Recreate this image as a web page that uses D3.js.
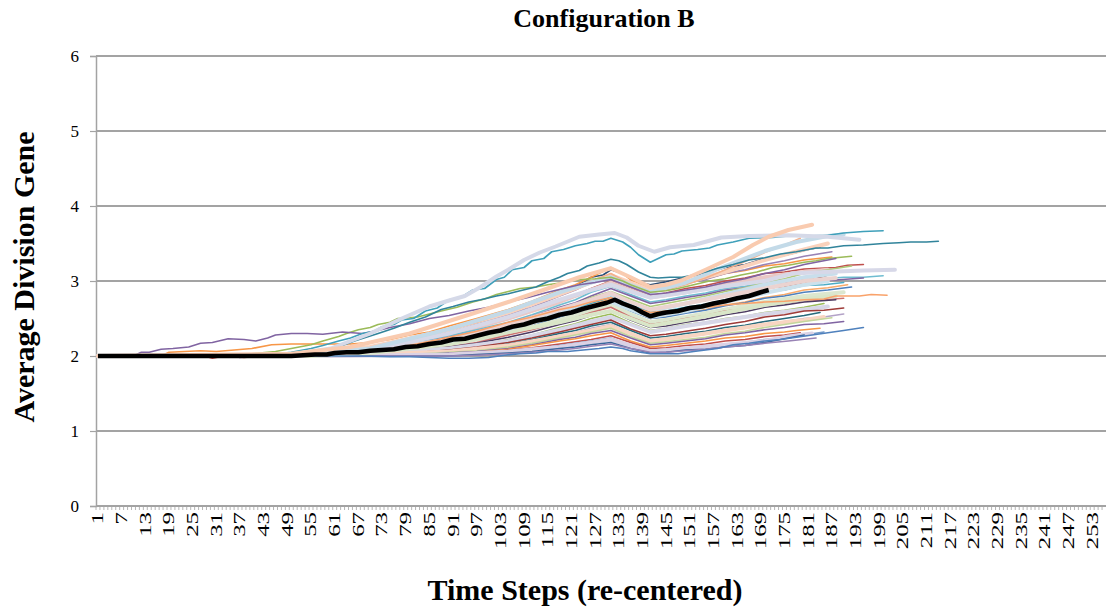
<!DOCTYPE html>
<html>
<head>
<meta charset="utf-8">
<script src="https://cdn.jsdelivr.net/npm/d3@7"></script>
<style>
  body { margin: 0; background: #fff; }
  svg { display: block; }
  text { font-family: "Liberation Serif", "Times New Roman", serif; fill: #000; }
</style>
</head>
<body>
<svg id="chart" width="1112" height="607"></svg>
<script>
// Time steps on the category axis and the labelled ticks
const categories = d3.range(1, 257);
const xTickLabels = categories.filter((d, i) => i % 6 === 0);
const yTicks = [0, 1, 2, 3, 4, 5, 6];

// Mean over all runs: [time step, average division gene]
const averageRun = [[1,2],[50,2],[53,2.01],[56,2.02],[59,2.02],[61,2.04],[64,2.05],[67,2.05],[70,2.07],[73,2.08],[76,2.09],[79,2.12],[82,2.13],[85,2.16],[88,2.18],[91,2.22],[94,2.23],[97,2.27],[100,2.31],[103,2.34],[106,2.39],[109,2.42],[112,2.47],[115,2.5],[118,2.55],[121,2.58],[124,2.63],[127,2.67],[130,2.71],[132,2.75],[134,2.7],[137,2.64],[139,2.58],[141,2.53],[143,2.56],[145,2.58],[148,2.6],[151,2.64],[154,2.66],[157,2.7],[160,2.73],[163,2.77],[166,2.8],[169,2.85],[171,2.88]];

// Individual runs: [time step, average division gene]
const runs = [
  [[1,2],[50,2],[55,2.03],[60,2.05],[65,2.08],[70,2.12],[75,2.16],[80,2.22],[85,2.27],[90,2.35],[94,2.38],[98,2.45],[102,2.52],[105,2.58],[109,2.63],[112,2.72],[115,2.76],[118,2.85],[122,2.93],[126,3.05],[129,3.08],[131,3.15],[134,3.1],[136,3.05],[139,2.97],[141,2.95],[145,2.99],[150,3.05],[155,3.1],[160,3.18],[165,3.22],[170,3.3],[174,3.33],[178,3.38],[181,3.42],[184,3.45]],
  [[1,2],[17,2],[19,2.05],[27,2.07],[31,2.06],[40,2.1],[45,2.15],[50,2.16],[60,2.16],[65,2.16],[70,2.18],[75,2.22],[80,2.28],[85,2.32],[90,2.4],[97,2.5],[105,2.62],[111,2.73],[118,2.88],[122,2.95],[126,3.05],[131,3.18],[134,3.1],[136,3.02],[141,2.9],[145,2.93],[150,2.98],[155,3.03],[160,3.1],[165,3.14],[170,3.2],[175,3.23],[180,3.28],[187,3.32]],
  [[1,2],[50,2],[60,2.04],[70,2.1],[80,2.2],[90,2.33],[97,2.42],[105,2.55],[111,2.65],[118,2.8],[122,2.88],[126,2.98],[131,3.08],[136,2.98],[141,2.88],[145,2.91],[150,2.97],[155,3.02],[160,3.1],[165,3.15],[170,3.22],[175,3.27],[180,3.33],[187,3.39]],
  [[1,2],[55,2],[62,2.03],[70,2.08],[80,2.17],[90,2.3],[97,2.38],[105,2.5],[111,2.6],[118,2.75],[122,2.81],[126,2.9],[131,3.0],[136,2.9],[141,2.8],[145,2.84],[150,2.9],[155,2.94],[160,3.0],[165,3.04],[170,3.1],[175,3.12],[180,3.16],[188,3.18],[191,3.21],[195,3.22]],
  [[1,2],[50,2],[70,2.1],[90,2.28],[105,2.5],[118,2.72],[126,2.88],[131,2.98],[136,2.88],[141,2.78],[150,2.85],[160,2.95],[170,3.05],[180,3.12],[186,3.15]],
  [[1,2],[50,2],[60,2.03],[70,2.08],[80,2.16],[90,2.27],[97,2.35],[105,2.45],[111,2.55],[118,2.68],[122,2.75],[126,2.85],[131,2.93],[136,2.82],[141,2.72],[145,2.75],[150,2.8],[155,2.84],[160,2.9],[165,2.93],[170,2.98],[175,3.0],[180,3.02],[185,3.03],[190,3.05],[195,3.05],[200,3.07]],
  [[1,2],[55,2],[62,2.02],[70,2.06],[80,2.15],[90,2.25],[97,2.33],[105,2.44],[111,2.53],[118,2.65],[122,2.71],[126,2.8],[131,2.9],[136,2.8],[141,2.7],[145,2.73],[150,2.78],[155,2.82],[160,2.88],[165,2.91],[170,2.96],[175,2.98],[180,3.0],[187,3.01],[195,3.04]],
  [[1,2],[55,2],[62,2.03],[70,2.07],[80,2.14],[90,2.24],[97,2.32],[105,2.42],[111,2.5],[118,2.62],[122,2.69],[126,2.78],[131,2.86],[136,2.76],[141,2.66],[145,2.7],[150,2.75],[155,2.8],[160,2.86],[165,2.91],[170,2.98],[175,3.03],[180,3.1],[186,3.15],[192,3.2]],
  [[1,2],[60,2],[65,2.02],[70,2.05],[80,2.12],[90,2.2],[97,2.28],[105,2.4],[111,2.48],[118,2.6],[122,2.66],[126,2.75],[131,2.84],[136,2.72],[141,2.62],[145,2.65],[150,2.7],[155,2.74],[160,2.8],[165,2.84],[170,2.9],[175,2.93],[180,2.98],[183,3.03],[186,3.08]],
  [[1,2],[50,2],[70,2.08],[90,2.22],[105,2.4],[118,2.58],[126,2.72],[131,2.8],[136,2.7],[141,2.6],[150,2.7],[160,2.82],[170,2.95],[180,3.05],[188,3.1]],
  [[1,2],[55,2],[62,2.02],[70,2.05],[80,2.11],[90,2.2],[97,2.28],[105,2.38],[111,2.45],[118,2.56],[122,2.62],[126,2.7],[131,2.78],[136,2.68],[141,2.58],[145,2.6],[150,2.65],[155,2.69],[160,2.75],[165,2.79],[170,2.85],[175,2.88],[180,2.94],[185,2.95],[190,2.98]],
  [[1,2],[55,2],[62,2.03],[70,2.06],[80,2.1],[90,2.18],[97,2.25],[105,2.35],[111,2.43],[118,2.54],[122,2.6],[126,2.68],[131,2.76],[136,2.62],[141,2.5],[145,2.53],[150,2.58],[155,2.62],[160,2.68],[165,2.72],[170,2.78],[175,2.82],[180,2.88],[186,2.91],[191,2.95]],
  [[1,2],[60,2],[65,2.02],[70,2.04],[80,2.08],[90,2.15],[97,2.22],[105,2.32],[111,2.4],[118,2.52],[122,2.58],[126,2.65],[131,2.72],[136,2.6],[141,2.5],[145,2.52],[150,2.57],[155,2.61],[160,2.67],[165,2.71],[170,2.77],[175,2.8],[180,2.85],[186,2.88],[192,2.92]],
  [[1,2],[50,2],[70,2.05],[90,2.15],[105,2.3],[118,2.48],[126,2.6],[131,2.68],[136,2.56],[141,2.45],[150,2.52],[160,2.62],[170,2.72],[180,2.8],[190,2.85]],
  [[1,2],[60,2],[65,2.01],[70,2.04],[80,2.07],[90,2.12],[97,2.18],[105,2.28],[111,2.35],[118,2.45],[122,2.51],[126,2.58],[131,2.65],[136,2.52],[141,2.42],[145,2.45],[150,2.5],[155,2.54],[160,2.6],[165,2.63],[170,2.68],[175,2.7],[180,2.74],[185,2.75],[190,2.77]],
  [[1,2],[60,2],[65,2.01],[70,2.03],[80,2.07],[90,2.12],[97,2.17],[105,2.25],[111,2.32],[118,2.42],[122,2.47],[126,2.54],[131,2.6],[136,2.48],[141,2.38],[145,2.4],[150,2.45],[155,2.49],[160,2.55],[165,2.59],[170,2.65],[175,2.68],[180,2.72],[188,2.75]],
  [[1,2],[60,2],[65,2.01],[70,2.03],[80,2.05],[90,2.1],[97,2.14],[105,2.22],[111,2.28],[118,2.38],[122,2.43],[126,2.5],[131,2.56],[136,2.44],[141,2.34],[145,2.37],[150,2.42],[155,2.45],[160,2.5],[165,2.53],[170,2.58],[175,2.61],[180,2.65],[185,2.7]],
  [[1,2],[55,2],[70,2.04],[90,2.1],[105,2.2],[118,2.35],[126,2.46],[131,2.52],[136,2.42],[141,2.32],[150,2.4],[160,2.48],[170,2.56],[180,2.62],[186,2.66]],
  [[1,2],[60,2],[70,2.02],[80,2.04],[90,2.08],[97,2.12],[105,2.18],[111,2.24],[118,2.32],[122,2.37],[126,2.42],[131,2.48],[136,2.36],[141,2.27],[145,2.29],[150,2.33],[155,2.37],[160,2.42],[165,2.46],[170,2.52],[175,2.55],[180,2.6],[185,2.61],[190,2.64]],
  [[1,2],[60,2],[70,2.02],[80,2.03],[90,2.07],[97,2.1],[105,2.16],[111,2.22],[118,2.3],[122,2.34],[126,2.4],[131,2.45],[136,2.34],[141,2.24],[145,2.26],[150,2.3],[155,2.33],[160,2.38],[165,2.41],[170,2.46],[175,2.5],[180,2.54],[184,2.58]],
  [[1,2],[60,2],[70,2.02],[80,2.03],[90,2.06],[97,2.1],[105,2.15],[111,2.2],[118,2.27],[122,2.31],[126,2.37],[131,2.42],[136,2.3],[141,2.2],[145,2.22],[150,2.26],[155,2.29],[160,2.34],[165,2.37],[170,2.42],[175,2.46],[180,2.5],[185,2.52],[190,2.56]],
  [[1,2],[55,2],[70,2.02],[90,2.06],[105,2.14],[118,2.26],[126,2.34],[131,2.4],[136,2.3],[141,2.2],[150,2.26],[160,2.34],[170,2.42],[180,2.48],[185,2.52]],
  [[1,2],[60,2],[70,2.01],[80,2.02],[90,2.05],[97,2.07],[105,2.12],[111,2.17],[118,2.24],[122,2.28],[126,2.32],[131,2.37],[136,2.26],[141,2.17],[145,2.19],[150,2.22],[155,2.25],[160,2.3],[165,2.33],[170,2.38],[175,2.42],[180,2.46],[187,2.51]],
  [[1,2],[35,2],[37,1.98],[40,2],[60,2],[70,2.01],[80,2.01],[90,2.04],[97,2.06],[105,2.1],[111,2.15],[118,2.22],[122,2.25],[126,2.3],[131,2.34],[136,2.24],[141,2.15],[145,2.17],[150,2.2],[155,2.23],[160,2.28],[165,2.31],[170,2.35],[175,2.38],[180,2.42],[185,2.43],[190,2.46]],
  [[1,2],[60,2],[70,2.01],[80,2.01],[90,2.03],[97,2.05],[105,2.09],[111,2.14],[118,2.2],[122,2.23],[126,2.27],[131,2.31],[136,2.2],[141,2.12],[145,2.14],[150,2.17],[155,2.2],[160,2.24],[165,2.26],[170,2.3],[175,2.32],[178,2.34],[184,2.37]],
  [[1,2],[28,2],[30,1.97],[33,2],[38,1.98],[42,2],[65,2],[70,2],[80,2.01],[90,2.02],[97,2.04],[105,2.08],[111,2.11],[118,2.16],[122,2.19],[126,2.22],[131,2.27],[136,2.18],[141,2.1],[145,2.11],[150,2.14],[155,2.16],[160,2.2],[165,2.22],[170,2.26],[175,2.28],[179,2.31]],
  [[1,2],[65,2],[80,2.01],[90,2.02],[97,2.03],[105,2.06],[111,2.09],[118,2.14],[122,2.17],[126,2.2],[131,2.24],[136,2.14],[141,2.07],[145,2.08],[150,2.1],[155,2.12],[160,2.16],[165,2.18],[170,2.22],[175,2.24],[180,2.28],[185,2.32]],
  [[1,2],[60,2],[90,2.02],[105,2.06],[118,2.12],[126,2.18],[131,2.22],[136,2.14],[141,2.06],[150,2.1],[160,2.15],[170,2.2],[176,2.26],[182,2.3]],
  [[1,2],[65,2],[80,2],[90,2],[97,2.02],[105,2.04],[111,2.06],[118,2.1],[122,2.12],[126,2.15],[131,2.18],[136,2.1],[141,2.04],[145,2.05],[150,2.08],[155,2.09],[160,2.12],[165,2.14],[170,2.18],[176,2.24],[180,2.28]],
  [[1,2],[70,2],[90,2],[97,2.01],[105,2.03],[111,2.05],[118,2.08],[122,2.1],[126,2.13],[131,2.16],[136,2.1],[141,2.05],[145,2.05],[150,2.07],[155,2.09],[160,2.12],[165,2.14],[170,2.17],[176,2.2],[183,2.24]],
  [[1,2],[55,2],[70,2.04],[90,2.16],[105,2.32],[118,2.45],[126,2.55],[131,2.6],[136,2.5],[141,2.4],[150,2.48],[160,2.58],[170,2.68],[180,2.76],[188,2.8]],
  [[1,2],[50,2],[70,2.06],[90,2.2],[105,2.36],[118,2.55],[126,2.66],[131,2.72],[136,2.62],[141,2.52],[150,2.6],[160,2.72],[170,2.84],[180,2.95],[186,3.0]],
  [[1,2],[50,2],[70,2.06],[90,2.22],[105,2.42],[118,2.62],[126,2.75],[131,2.84],[136,2.72],[141,2.62],[150,2.7],[160,2.8],[170,2.9],[180,3.0],[188,3.04]],
  [[1,2],[45,2],[60,2.06],[70,2.12],[90,2.35],[105,2.58],[118,2.82],[126,2.98],[131,3.08],[136,2.98],[141,2.88],[150,2.98],[160,3.12],[170,3.28],[180,3.42],[186,3.5]],
  [[1,2],[55,2],[62,2.03],[70,2.06],[80,2.14],[90,2.25],[97,2.33],[105,2.45],[111,2.52],[118,2.62],[122,2.66],[126,2.72],[131,2.78],[136,2.66],[141,2.58],[145,2.6],[150,2.62],[155,2.65],[160,2.68],[165,2.7],[170,2.72],[175,2.73],[180,2.75],[185,2.76],[188,2.8],[194,2.8],[197,2.82],[201,2.81]],
  [[1,2],[50,2],[70,2.08],[90,2.3],[105,2.52],[118,2.75],[126,2.88],[131,2.95],[136,2.86],[141,2.78],[150,2.85],[160,2.93],[170,3],[177,3.1],[185,3.12],[195,3.14],[203,3.15]],
  [[1,2],[50,2],[60,2.04],[70,2.1],[80,2.22],[90,2.35],[97,2.45],[105,2.6],[111,2.7],[118,2.85],[122,2.92],[126,3],[131,3.1],[136,2.95],[141,2.85],[145,2.88],[150,2.95],[155,3.04],[160,3.15],[165,3.26],[170,3.38],[175,3.48],[179,3.57]],
  [[1,2],[50,2],[70,2.1],[90,2.36],[105,2.6],[118,2.85],[126,2.98],[131,3.05],[136,2.95],[141,2.85],[150,2.98],[160,3.2],[170,3.4],[178,3.52],[186,3.6],[190,3.62]],
  [[1,2],[60,2],[68,2],[75,1.99],[80,1.99],[85,1.98],[90,1.97],[95,1.97],[100,1.98],[104,2.01],[108,2.03],[112,2.04],[115,2.06],[120,2.06],[124,2.08],[128,2.1],[131,2.12],[134,2.1],[136,2.07],[141,2.03],[145,2.03],[148,2.03],[152,2.06],[155,2.08],[158,2.1],[162,2.15],[166,2.17],[170,2.2],[174,2.22],[178,2.25],[182,2.28],[186,2.31],[190,2.34],[195,2.38]],
  [[1,2],[40,2.03],[46,2.06],[52,2.12],[55,2.15],[58,2.2],[62,2.26],[64,2.3],[67,2.35],[70,2.38],[72,2.42],[75,2.45],[77,2.5],[80,2.51],[82,2.52],[85,2.56],[88,2.6],[92,2.65],[96,2.72],[99,2.76],[102,2.82],[105,2.86],[108,2.9],[112,2.92],[115,2.95],[119,2.98],[123,3.02],[127,3.03],[131,3.05],[134,3],[136,2.95],[141,2.85],[145,2.87],[148,2.9],[152,2.95],[156,3],[160,3.03],[164,3.08],[168,3.12],[172,3.18],[176,3.21],[180,3.25],[183,3.27],[186,3.3],[192,3.33]],
  [[1,2],[10,2],[12,2.05],[14,2.05],[17,2.09],[20,2.1],[24,2.12],[27,2.17],[30,2.18],[34,2.23],[38,2.22],[41,2.2],[44,2.24],[46,2.28],[50,2.3],[54,2.3],[58,2.29],[63,2.32],[68,2.3],[72,2.34],[75,2.38],[80,2.43],[85,2.5],[90,2.54],[95,2.6],[100,2.65],[105,2.72],[110,2.78],[115,2.85],[119,2.9],[123,2.95],[127,2.98],[131,3.02],[136,2.92],[141,2.82],[145,2.84],[150,2.88],[155,2.92],[160,2.98],[165,3.03],[170,3.1],[175,3.15],[180,3.22],[184,3.26],[188,3.3]],
  [[1,2],[50,2.02],[56,2.06],[62,2.12],[66,2.2],[72,2.3],[76,2.37],[80,2.45],[84,2.52],[88,2.62],[91,2.66],[95,2.72],[98,2.75],[102,2.8],[105,2.83],[108,2.87],[112,2.92],[115,2.99],[118,3.05],[120,3.1],[123,3.14],[125,3.2],[128,3.24],[131,3.29],[133,3.27],[135,3.22],[138,3.12],[141,3.05],[143,3.04],[146,3.05],[149,3.05],[152,3.08],[155,3.12],[158,3.17],[162,3.22],[166,3.28],[170,3.31],[174,3.36],[178,3.39],[183,3.44],[186,3.44],[190,3.47],[195,3.48],[200,3.5],[204,3.51],[207,3.52],[211,3.52],[214,3.53]],
  [[1,2],[45,2.02],[50,2.05],[55,2.1],[58,2.14],[62,2.2],[65,2.24],[68,2.3],[71,2.33],[73,2.39],[76,2.42],[78,2.48],[81,2.5],[84,2.6],[87,2.64],[90,2.75],[93,2.78],[96,2.88],[99,2.9],[102,3.02],[104,3.05],[106,3.15],[109,3.18],[111,3.27],[114,3.3],[116,3.39],[119,3.42],[122,3.47],[125,3.5],[127,3.53],[129,3.53],[131,3.57],[134,3.52],[136,3.45],[138,3.35],[141,3.25],[143,3.3],[145,3.35],[147,3.36],[149,3.4],[153,3.42],[156,3.44],[158,3.48],[162,3.52],[166,3.57],[172,3.58],[176,3.6],[180,3.6],[186,3.61],[190,3.64],[195,3.66],[200,3.67]],
  [[1,2],[50,2.02],[60,2.1],[70,2.3],[78,2.5],[85,2.66],[90,2.74],[94,2.8],[98,2.92],[102,3.06],[105,3.15],[109,3.28],[113,3.38],[117,3.46],[123,3.59],[128,3.62],[132,3.64],[135,3.58],[138,3.47],[142,3.39],[146,3.45],[152,3.48],[159,3.58],[166,3.6],[176,3.61],[186,3.59],[194,3.55]],
  [[1,2],[50,2.03],[65,2.12],[80,2.3],[95,2.55],[105,2.72],[115,2.9],[123,3.05],[131,3.17],[136,3.05],[141,2.92],[145,2.95],[149,3.01],[155,3.15],[162,3.32],[167,3.48],[171,3.59],[176,3.68],[182,3.75]]
];

// Line colour for each run, in drawing order
const runColors = [
  "#2C4D75","#F79646","#9983B5","#C0504D","#E9C8C6","#6FBDD1","#8064A2","#AFC97A",
  "#772C2A","#C8DEEB","#4BACC6","#F9AB6B","#4F81BD","#DCE7CF","#CD7371","#4D3B62",
  "#9BBB59","#D7D7E7","#9F3B38","#276A7C","#B3A2C7","#F8D5C2","#C3D69B","#8064A2",
  "#F79646","#C0504D","#729ACA","#DAD2E5","#3A679C","#9983B5","#D9E6C8","#CBE1EC",
  "#EBD3D0","#FAD2BC","#F9A26A","#D7D8E8","#F4B08C","#C3DAE8","#4F81BD","#9BBB59",
  "#8064A2","#31849B","#3FA0BA","#D5D9E8","#F9CBB0"
];
// Pale runs are drawn with a heavier stroke
const paleRuns = new Set([4, 9, 13, 17, 21, 27, 30, 31, 32, 33, 35, 37, 43, 44]);

const serif = "'Liberation Serif', 'Times New Roman', serif";
const svg = d3.select("#chart");
const plot = { left: 96, right: 1106, top: 56, bottom: 506 };

const x = d3.scaleBand().domain(categories).range([plot.left, plot.right]).padding(0);
const xc = s => x(s) + x.bandwidth() / 2;
const y = d3.scaleLinear().domain([0, 6]).range([plot.bottom, plot.top]);

// Horizontal gridlines
svg.append("g")
  .selectAll("line")
  .data(yTicks.filter(v => v > 0))
  .join("line")
  .attr("x1", plot.left).attr("x2", plot.right)
  .attr("y1", d => y(d)).attr("y2", d => y(d))
  .attr("stroke", "#A3A3A3").attr("stroke-width", 1.8);

// Y axis
const yAxis = svg.append("g")
  .attr("transform", `translate(${plot.left},0)`)
  .call(d3.axisLeft(y).tickValues(yTicks).tickSize(6).tickPadding(11).tickFormat(d3.format("d")));
yAxis.attr("font-family", null);
yAxis.select(".domain").attr("stroke", "#A3A3A3").attr("stroke-width", 1.5);
yAxis.selectAll(".tick line").attr("stroke", "#A3A3A3").attr("stroke-width", 1.2);
yAxis.selectAll(".tick text")
  .style("font-family", serif)
  .style("font-size", "17px").attr("fill", "#000");

// X axis: baseline, a tick at every category boundary, rotated labels
const xAxis = svg.append("g");
xAxis.append("line")
  .attr("x1", plot.left).attr("x2", plot.right)
  .attr("y1", plot.bottom).attr("y2", plot.bottom)
  .attr("stroke", "#A3A3A3").attr("stroke-width", 1.8);
xAxis.selectAll("line.tick")
  .data(categories)
  .join("line")
  .attr("class", "tick")
  .attr("x1", d => x(d)).attr("x2", d => x(d))
  .attr("y1", plot.bottom).attr("y2", plot.bottom + 4)
  .attr("stroke", "#A3A3A3").attr("stroke-width", 0.8);
xAxis.selectAll("text")
  .data(xTickLabels)
  .join("text")
  .attr("transform", d => `translate(${xc(d)},${plot.bottom + 6}) rotate(-90) scale(1.55,1)`)
  .attr("text-anchor", "end")
  .attr("dy", "0.34em")
  .style("font-family", serif)
  .style("font-size", "16px")
  .text(d => d);

// Run lines
const line = d3.line().x(d => xc(d[0])).y(d => y(d[1]));
svg.append("g")
  .attr("fill", "none")
  .attr("stroke-linejoin", "round")
  .attr("stroke-linecap", "round")
  .selectAll("path")
  .data(runs)
  .join("path")
  .attr("d", line)
  .attr("stroke", (d, i) => runColors[i])
  .attr("stroke-width", (d, i) => paleRuns.has(i) ? 4 : 1.7);

// Average line on top
svg.append("path")
  .datum(averageRun)
  .attr("d", line)
  .attr("fill", "none")
  .attr("stroke", "#000")
  .attr("stroke-width", 4.5)
  .attr("stroke-linejoin", "round");

// Titles
svg.append("text")
  .attr("x", 604).attr("y", 27)
  .attr("text-anchor", "middle")
  .style("font-family", serif)
  .style("font-size", "26px").style("font-weight", "bold")
  .text("Configuration B");

svg.append("text")
  .attr("x", 585).attr("y", 600)
  .attr("text-anchor", "middle")
  .style("font-family", serif)
  .style("font-size", "30px").style("font-weight", "bold")
  .text("Time Steps (re-centered)");

svg.append("text")
  .attr("transform", "translate(34,277) rotate(-90)")
  .attr("text-anchor", "middle")
  .style("font-family", serif)
  .style("font-size", "30px").style("font-weight", "bold")
  .text("Average Division Gene");
</script>
</body>
</html>
